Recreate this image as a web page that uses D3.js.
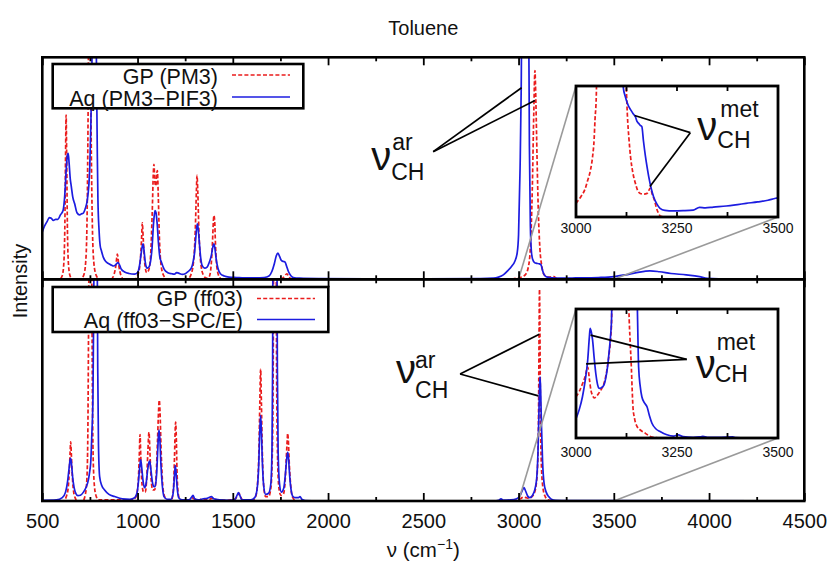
<!DOCTYPE html>
<html><head><meta charset="utf-8">
<script src="https://cdn.jsdelivr.net/npm/d3@7"></script>
<style>body{margin:0;background:#fff} text{font-family:"Liberation Sans",Arial,Helvetica,sans-serif;fill:#111}</style>
</head><body><svg id="c" width="830" height="567"></svg>
<script>
// ---------------- data (wavenumber cm^-1, intensity in panel units 0..100, off-scale >100) ----------------
const gpPM3 = [[500,0],[590,0],[604,1.5],[612,6],[618,22],[622,55],[625,74],[628,55],[632,22],[638,6],[646,1.5],[658,0],
[700,0],[718,2],[728,8],[735,28],[740,70],[744,120],[752,120],[756,70],[762,28],[770,8],[782,2],[800,0],
[860,0],[876,2],[886,6],[894,11.3],[902,6],[912,2],[928,0],
[985,0],[1002,2],[1014,8],[1021,18],[1025,25.4],[1030,18],[1038,7],[1048,3],
[1058,4],[1068,10],[1077,30],[1083,48],[1086,51.8],[1091,44],[1096,42],[1101,48],[1104,49],[1108,40],[1115,18],[1124,6],[1138,1.5],[1155,0],
[1262,0],[1280,2],[1294,8],[1303,22],[1309,40],[1312,46.8],[1316,40],[1322,22],[1331,8],[1345,2],[1362,0.5],
[1375,1],[1385,5],[1393,16],[1398,26],[1401,28.8],[1405,26],[1409,16],[1417,5],[1430,1],[1445,0],
[1750,0],[1770,1.2],[1784,2.5],[1795,1],[1815,0],
[2950,0],[2990,0.5],[3015,1],[3035,2],[3050,5],[3062,14],[3072,40],[3080,75],[3086,94],[3091,80],[3097,55],[3104,30],[3112,14],[3122,6],[3135,2],[3160,1],[3185,1.2],[3200,0.3],[3230,0],[4500,0]];

const aqPM3 = [[500,21.3],[512,24],[525,26],[537,27.8],[547,27.5],[558,26.5],[570,27],[582,27],[595,29],[609,31],[618,38],[626,50],[632,56],[636,56.7],[641,52],[647,45],[652,42],[660,37],[670,34],[682,30],[696,29],[706,29.5],[714,29.7],[726,32],[736,35.6],[744,42],[749,50],[755,70],[761,100],[766,130],[780,130],[785,90],[789,55],[792,36],[798,22],[804,15],[810,13],[820,10],[833,8],[845,7.2],[860,6.5],[875,6],[888,6.8],[897,7.5],[905,6.5],[915,4.5],[932,3.3],[955,2.6],[984,2.3],[1000,3],[1010,6],[1018,11],[1024,14.5],[1029,16],[1034,13],[1040,8],[1046,5.5],[1051,5],[1060,5.5],[1068,8],[1076,14],[1083,24],[1088,29],[1092,31],[1097,30],[1103,25],[1110,16],[1117,10],[1124,8],[1140,4.5],[1159,3],[1180,2.5],[1194,2.3],[1205,3],[1215,2.8],[1235,2.2],[1250,2.5],[1265,3.5],[1282,5],[1292,8],[1300,12.6],[1306,19],[1311,23.5],[1314,25],[1318,23],[1324,17],[1331,10],[1340,6],[1352,5],[1365,5.5],[1378,8],[1388,11],[1395,14.5],[1401,16],[1406,14],[1413,9],[1422,5],[1435,2.5],[1455,1.5],[1480,1],[1520,0.8],[1560,0.6],[1620,0.6],[1665,0.8],[1690,1.5],[1705,3.5],[1718,7],[1728,10.5],[1737,11.8],[1746,10.2],[1755,8.5],[1766,8],[1774,7.8],[1782,6],[1792,3.5],[1805,1.6],[1818,0.8],[1850,0.5],[1950,0.3],[2200,0.2],[2500,0.2],[2800,0.3],[2870,0.5],[2895,1],[2920,2],[2945,4],[2965,6],[2980,8],[2993,12],[3000,20],[3008,50],[3014,86],[3018,130],[3052,130],[3057,60],[3062,24],[3067,13],[3074,9],[3084,7.5],[3095,7.2],[3108,7],[3118,6.5],[3126,4],[3135,2],[3150,1],[3200,0.5],[3300,0.6],[3420,0.8],[3500,1.2],[3560,2],[3620,3],[3690,3.8],[3740,3.4],[3800,2.6],[3880,2],[3950,1.2],[3990,0.4],[4050,0.2],[4500,0.2]];

const gpFF03 = [[500,0],[612,0],[626,2],[636,6],[642,14],[646,22],[649,26.7],[652,22],[656,14],[662,6],[672,1.5],[686,0],
[712,0],[726,3],[734,10],[739,30],[743,80],[746,120],[758,120],[761,80],[765,30],[771,10],[780,3],[795,0.5],
[975,0.5],[992,2],[1003,8],[1009,20],[1013,30],[1017,20],[1023,8],[1032,4],[1040,4],[1048,10],[1054,22],[1060,31],[1065,22],[1071,10],[1080,5],[1090,5],[1098,12],[1105,28],[1110,40],[1114,45.5],[1118,40],[1123,25],[1130,10],[1140,2.5],[1155,0.5],[1178,0.5],[1188,5],[1194,20],[1198,33],[1200,35.6],[1203,30],[1207,14],[1214,3],[1225,0.5],
[1270,0.5],[1285,1.5],[1295,1],[1320,0.5],[1345,1],[1370,0.5],[1390,1.2],[1420,0.5],[1460,0.3],[1510,0.8],[1525,2.5],[1533,3.5],[1540,2],[1555,0.3],
[1605,0.3],[1620,2],[1630,8],[1637,22],[1642,45],[1646,59.5],[1650,45],[1655,22],[1662,7],[1672,2],[1688,2],[1700,6],[1707,20],[1712,60],[1715,120],[1727,120],[1730,60],[1735,20],[1742,6],[1752,2.5],[1765,3],[1774,8],[1780,18],[1786,28],[1788,30.5],[1791,28],[1797,16],[1805,6],[1815,1.5],[1835,0],
[2950,0],[2990,0.3],[3010,1],[3025,1.8],[3040,1.5],[3055,1.2],[3068,1.8],[3080,3],[3092,7],[3100,16],[3105,40],[3108,80],[3110,95.5],[3112,80],[3115,40],[3120,16],[3128,6],[3140,2],[3155,0.5],[3190,0],[4500,0]];

const aqFF03 = [[500,0.3],[575,0.5],[605,1.5],[622,4],[633,9],[641,15],[646,18.5],[649,19.2],[653,17],[659,11],[667,6],[677,3.2],[687,2.4],[700,2.6],[716,4],[731,6.4],[743,10],[750,14],[754,17],[760,30],[766,47],[770,90],[773,130],[787,130],[791,60],[795,25],[801,11],[812,7],[827,5],[850,3],[880,2],[920,1],[960,0.8],[985,1.5],[998,4],[1006,10],[1012,16],[1017,18.6],[1022,15],[1029,9],[1037,6],[1045,8],[1053,14],[1060,17.5],[1064,18],[1069,15],[1077,9],[1085,6.5],[1092,6.5],[1100,12],[1106,23],[1110,30],[1113,32],[1117,28],[1123,16],[1130,7],[1139,2],[1155,0.8],[1175,0.8],[1186,3],[1192,9],[1196,14],[1198,16],[1202,13],[1208,6],[1216,1.5],[1235,0.5],[1270,0.5],[1282,1.5],[1291,2.5],[1300,1],[1320,0.5],[1345,1],[1365,1.2],[1389,2],[1400,1],[1430,0.5],[1480,0.3],[1512,0.8],[1522,2.5],[1530,3.8],[1537,2.5],[1548,0.6],[1595,0.5],[1615,1.5],[1627,5],[1636,16],[1641,30],[1646,38.6],[1650,32],[1655,18],[1662,7],[1672,3],[1688,3.5],[1700,8],[1706,25],[1709,60],[1711,130],[1731,130],[1734,60],[1738,22],[1745,8],[1755,4],[1768,6],[1776,12],[1783,19],[1788,22],[1792,20],[1798,12],[1806,5],[1816,2],[1830,1.5],[1845,1.5],[1853,2],[1862,0.8],[1880,0.2],[1950,0],
[2870,0],[2895,0.3],[2908,1],[2918,0.4],[2960,0.5],[2990,1],[3008,2.5],[3020,4.8],[3029,6],[3037,4.5],[3048,2.2],[3060,1.5],[3073,2.5],[3085,5],[3095,10],[3102,22],[3107,40],[3111,53],[3113,56],[3116,50],[3120,35],[3126,18],[3134,8],[3145,4],[3158,2],[3172,0.8],[3195,0.3],[3260,0.2],[4500,0.1]];

// inset data (3000-3500 cm^-1, inset units 0..100)
const gpPM3Inset = [[3000,10.4],[3012,15.5],[3022,21],[3029,28],[3036,36],[3041,46],[3045,60],[3047,74],[3050,90],[3053,130],[3122,130],[3125,95],[3127,79],[3131,60],[3135,46],[3140,35],[3147,25.7],[3153,20],[3159,18],[3167,17.5],[3176,18],[3184,22],[3189,17],[3194,13],[3199,7],[3204,3],[3210,0.5],[3230,0],[3500,0]];
const aqPM3Inset = [[3000,130],[3113,130],[3117,99],[3122,92],[3127,87],[3131,84],[3135,82],[3141,79],[3147,76.6],[3151,73],[3155,71.5],[3159,70],[3163,69],[3167,58],[3172,46],[3176,38],[3180,30.8],[3186,22],[3192,15.5],[3200,10],[3208,6.6],[3220,5],[3241,4.6],[3265,4.8],[3290,5.3],[3306,7.4],[3320,7],[3340,7.6],[3372,8.4],[3400,9.5],[3421,10.4],[3450,11.5],[3475,12.8],[3494,14.3],[3500,14.6]];
const gpFF03Inset = [[3000,32],[3008,36],[3016,42],[3023,48],[3029,55],[3033,46],[3037,37],[3041,33],[3045,31],[3050,32],[3057,35],[3063,38],[3069,42],[3075,50],[3079,58],[3083,68],[3086,78.5],[3088,90],[3090,130],[3129,130],[3131,99],[3134,75],[3137,55],[3139,38],[3141,24],[3145,15],[3151,9],[3160,6],[3172,3.6],[3182,1.5],[3192,0.5],[3210,0],[3500,0]];
const aqFF03Inset = [[3000,15],[3008,22],[3016,32],[3023,45],[3029,60.5],[3033,78],[3035,85],[3038,82],[3041,76],[3045,62],[3049,50],[3053,42],[3057,38.5],[3063,39],[3069,41],[3074,47],[3078,55],[3082,67],[3086,81],[3088,92],[3090,130],[3150,130],[3152,99],[3155,55],[3159,40],[3163,32],[3170,27],[3176,24],[3182,17],[3188,11.4],[3198,7],[3208,5],[3225,2.5],[3241,1.5],[3253,2.5],[3265,1],[3290,0.5],[3305,0.8],[3314,1.2],[3325,0.5],[3360,0.6],[3388,0.8],[3395,0.3],[3420,0],[3500,0]];

const xMajorTicks = [500,1000,1500,2000,2500,3000,3500,4000,4500];
const xMinorTicks = [750,1250,1750,2250,2750,3250,3750,4250];
const insetTickLabels = [3000,3250,3500];
const insetTicks = [3125,3250,3375];
const legendTop = ["GP (PM3)","Aq (PM3\u2212PIF3)"];
const legendBot = ["GP (ff03)","Aq (ff03\u2212SPC/E)"];
const titleText = "Toluene";
const yLabel = "Intensity";

// annotations: convergence point and two end points (data coords)
const annArTop = {conv:[2552,57.5], ends:[[3016,86.3],[3086,80.5]]};
const annMetTop = {conv:[3283,64.4], ends:[[3145,77.5],[3183,23.3]]};
const annArBot = {conv:[2693,57.3], ends:[[3109,75.2],[3104,47.4]]};
const annMetBot = {conv:[3274,61], ends:[[3036,79.8],[3025,57.4]]};

// ---------------- drawing ----------------
const RED = "#ea1c1c", BLUE = "#1c1ce0";
const svg = d3.select("#c");
const L = 42.3, R = 804.3;
const x = d3.scaleLinear([500,4500],[L,R]);
const yTop = d3.scaleLinear([0,100],[279.3,57.3]);
const yBot = d3.scaleLinear([0,100],[501,279.3]);
const ix = d3.scaleLinear([3000,3500],[576,778]);
const iyTop = d3.scaleLinear([0,100],[217,86]);
const iyBot = d3.scaleLinear([0,100],[438,309]);

const defs = svg.append("defs");
function clip(id, x0, y0, w, h){
  defs.append("clipPath").attr("id",id).append("rect").attr("x",x0).attr("y",y0).attr("width",w).attr("height",h);
}
function lineGen(xs, ys){ return d3.line().x(d=>xs(d[0])).y(d=>ys(d[1])).curve(d3.curveMonotoneX); }
function drawSeries(g, xs, ys, gp, aq){
  g.append("path").attr("d", lineGen(xs,ys)(gp)).attr("fill","none").attr("stroke",RED)
    .attr("stroke-width",1.7).attr("stroke-dasharray","4,2.2");
  g.append("path").attr("d", lineGen(xs,ys)(aq)).attr("fill","none").attr("stroke",BLUE)
    .attr("stroke-width",1.7);
}

// title
svg.append("text").attr("x",(L+R)/2).attr("y",35).attr("text-anchor","middle").attr("font-size",20).text(titleText);

// panels
[[yTop,gpPM3,aqPM3,"cT"],[yBot,gpFF03,aqFF03,"cB"]].forEach(([ys,gp,aq,id])=>{
  const y0 = ys(100), y1 = ys(0);
  clip(id, L, y0, R-L, y1-y0);
  const g = svg.append("g").attr("clip-path",`url(#${id})`);
  drawSeries(g, x, ys, gp, aq);
});

// gray zoom connector lines
function connectors(ys, iys){
  const gg = svg.append("g").attr("stroke","#9a9a9a").attr("stroke-width",1.6);
  gg.append("line").attr("x1",x(3000)).attr("y1",ys(0)).attr("x2",ix(3000)).attr("y2",iys(100));
  gg.append("line").attr("x1",x(3500)).attr("y1",ys(0)).attr("x2",ix(3500)).attr("y2",iys(0));
}
connectors(yTop, iyTop);
connectors(yBot, iyBot);

// annotation lines
function annLines(a, xs, ys){
  const g = svg.append("g").attr("stroke","#000").attr("stroke-width",1.7);
  a.ends.forEach(e=>g.append("line").attr("x1",xs(a.conv[0])).attr("y1",ys(a.conv[1])).attr("x2",xs(e[0])).attr("y2",ys(e[1])));
}
function annText(a, xs, ys, sup, o){
  const cx = xs(a.conv[0]), cy = ys(a.conv[1]);
  const g = svg.append("g");
  g.append("text").attr("x",cx+o.nu[0]).attr("y",cy+o.nu[1]).attr("font-size",40).text("\u03bd");
  g.append("text").attr("x",cx+o.sup[0]).attr("y",cy+o.sup[1]).attr("font-size",23).text(sup);
  g.append("text").attr("x",cx+o.sub[0]).attr("y",cy+o.sub[1]).attr("font-size",23).text("CH");
}
annLines(annArTop, x, yTop);
annLines(annArBot, x, yBot);

// frames & ticks
function ticks(y, dir, vals, len){
  const ax = (dir>0? d3.axisBottom(x) : d3.axisTop(x)).tickValues(vals).tickSize(-len).tickFormat("");
  const g = svg.append("g").attr("transform",`translate(0,${y})`).call(ax);
  g.select(".domain").remove();
  g.selectAll(".tick line").attr("stroke","#000").attr("stroke-width",1.8);
}
[yTop,yBot].forEach(ys=>{
  ticks(ys(0), 1, xMajorTicks, 8); ticks(ys(0), 1, xMinorTicks, 4);
  ticks(ys(100), -1, xMajorTicks, 8); ticks(ys(100), -1, xMinorTicks, 4);
  svg.append("rect").attr("x",L).attr("y",ys(100)).attr("width",R-L).attr("height",ys(0)-ys(100))
    .attr("fill","none").attr("stroke","#000").attr("stroke-width",2.6);
});
// x tick labels
const xl = svg.append("g").attr("transform",`translate(0,${yBot(0)})`)
  .call(d3.axisBottom(x).tickValues(xMajorTicks).tickSize(0).tickPadding(13).tickFormat(d3.format("d")));
xl.select(".domain").remove();
xl.selectAll("text").attr("font-size",20).attr("font-family","Liberation Sans, Arial, sans-serif").attr("fill","#111");

// axis titles
const xt = svg.append("text").attr("x",(L+R)/2).attr("y",557).attr("text-anchor","middle").attr("font-size",20.5);
xt.append("tspan").text("\u03bd (cm");
xt.append("tspan").attr("dy",-8).attr("font-size",14).text("\u22121");
xt.append("tspan").attr("dy",8).text(")");
svg.append("text").attr("transform","translate(27,281) rotate(-90)").attr("text-anchor","middle").attr("font-size",20).text(yLabel);

// legends
function legend(x0,y0,w,h,textX,labels,rowsY,lineX0,lineX1,sampleY){
  const g = svg.append("g");
  g.append("rect").attr("x",x0).attr("y",y0).attr("width",w).attr("height",h).attr("fill","#fff").attr("stroke","#000").attr("stroke-width",2.6);
  labels.forEach((t,i)=>{
    g.append("text").attr("x",textX).attr("y",rowsY[i]).attr("text-anchor","end").attr("font-size",21.5).text(t);
    g.append("line").attr("x1",lineX0).attr("x2",lineX1).attr("y1",sampleY[i]).attr("y2",sampleY[i])
      .attr("stroke", i===0?RED:BLUE).attr("stroke-width",1.7).attr("stroke-dasharray", i===0?"4,2.2":null);
  });
}
legend(52.7,64,250.6,44.3,218,legendTop,[83.5,105.5],232,290,[75,97]);
legend(52.7,287,275.6,45,243,legendBot,[305.5,327.5],257,315,[298.5,319.5]);

// insets
function inset(iys, gp, aq, id, labelY){
  const y0 = iys(100), y1 = iys(0);
  svg.append("rect").attr("x",ix(3000)).attr("y",y0).attr("width",ix(3500)-ix(3000)).attr("height",y1-y0).attr("fill","#fff");
  clip(id, ix(3000), y0, ix(3500)-ix(3000), y1-y0);
  const g = svg.append("g").attr("clip-path",`url(#${id})`);
  drawSeries(g, ix, iys, gp, aq);
  const tg = svg.append("g").attr("stroke","#000").attr("stroke-width",1.8);
  insetTicks.forEach(v=>{
    tg.append("line").attr("x1",ix(v)).attr("x2",ix(v)).attr("y1",y0).attr("y2",y0+5);
    tg.append("line").attr("x1",ix(v)).attr("x2",ix(v)).attr("y1",y1).attr("y2",y1-5);
  });
  svg.append("rect").attr("x",ix(3000)).attr("y",y0).attr("width",ix(3500)-ix(3000)).attr("height",y1-y0)
    .attr("fill","none").attr("stroke","#000").attr("stroke-width",2.8);
  insetTickLabels.forEach(v=>{
    svg.append("text").attr("x",ix(v)).attr("y",labelY).attr("text-anchor","middle").attr("font-size",14).text(v);
  });
}
inset(iyTop, gpPM3Inset, aqPM3Inset, "iT", 233);
inset(iyBot, gpFF03Inset, aqFF03Inset, "iB", 457);

annLines(annMetTop, ix, iyTop);
annLines(annMetBot, ix, iyBot);

annText(annArTop, x, yTop, "ar", {nu:[-62,18], sup:[-41,-2], sub:[-42,28]});
annText(annMetTop, ix, iyTop, "met", {nu:[7,7], sup:[30,-16], sub:[27,15]});
annText(annArBot, x, yBot, "ar", {nu:[-64,9], sup:[-45,-6], sub:[-45,24]});
annText(annMetBot, ix, iyBot, "met", {nu:[9,19], sup:[30,-9], sub:[28,23]});
</script></body></html>
